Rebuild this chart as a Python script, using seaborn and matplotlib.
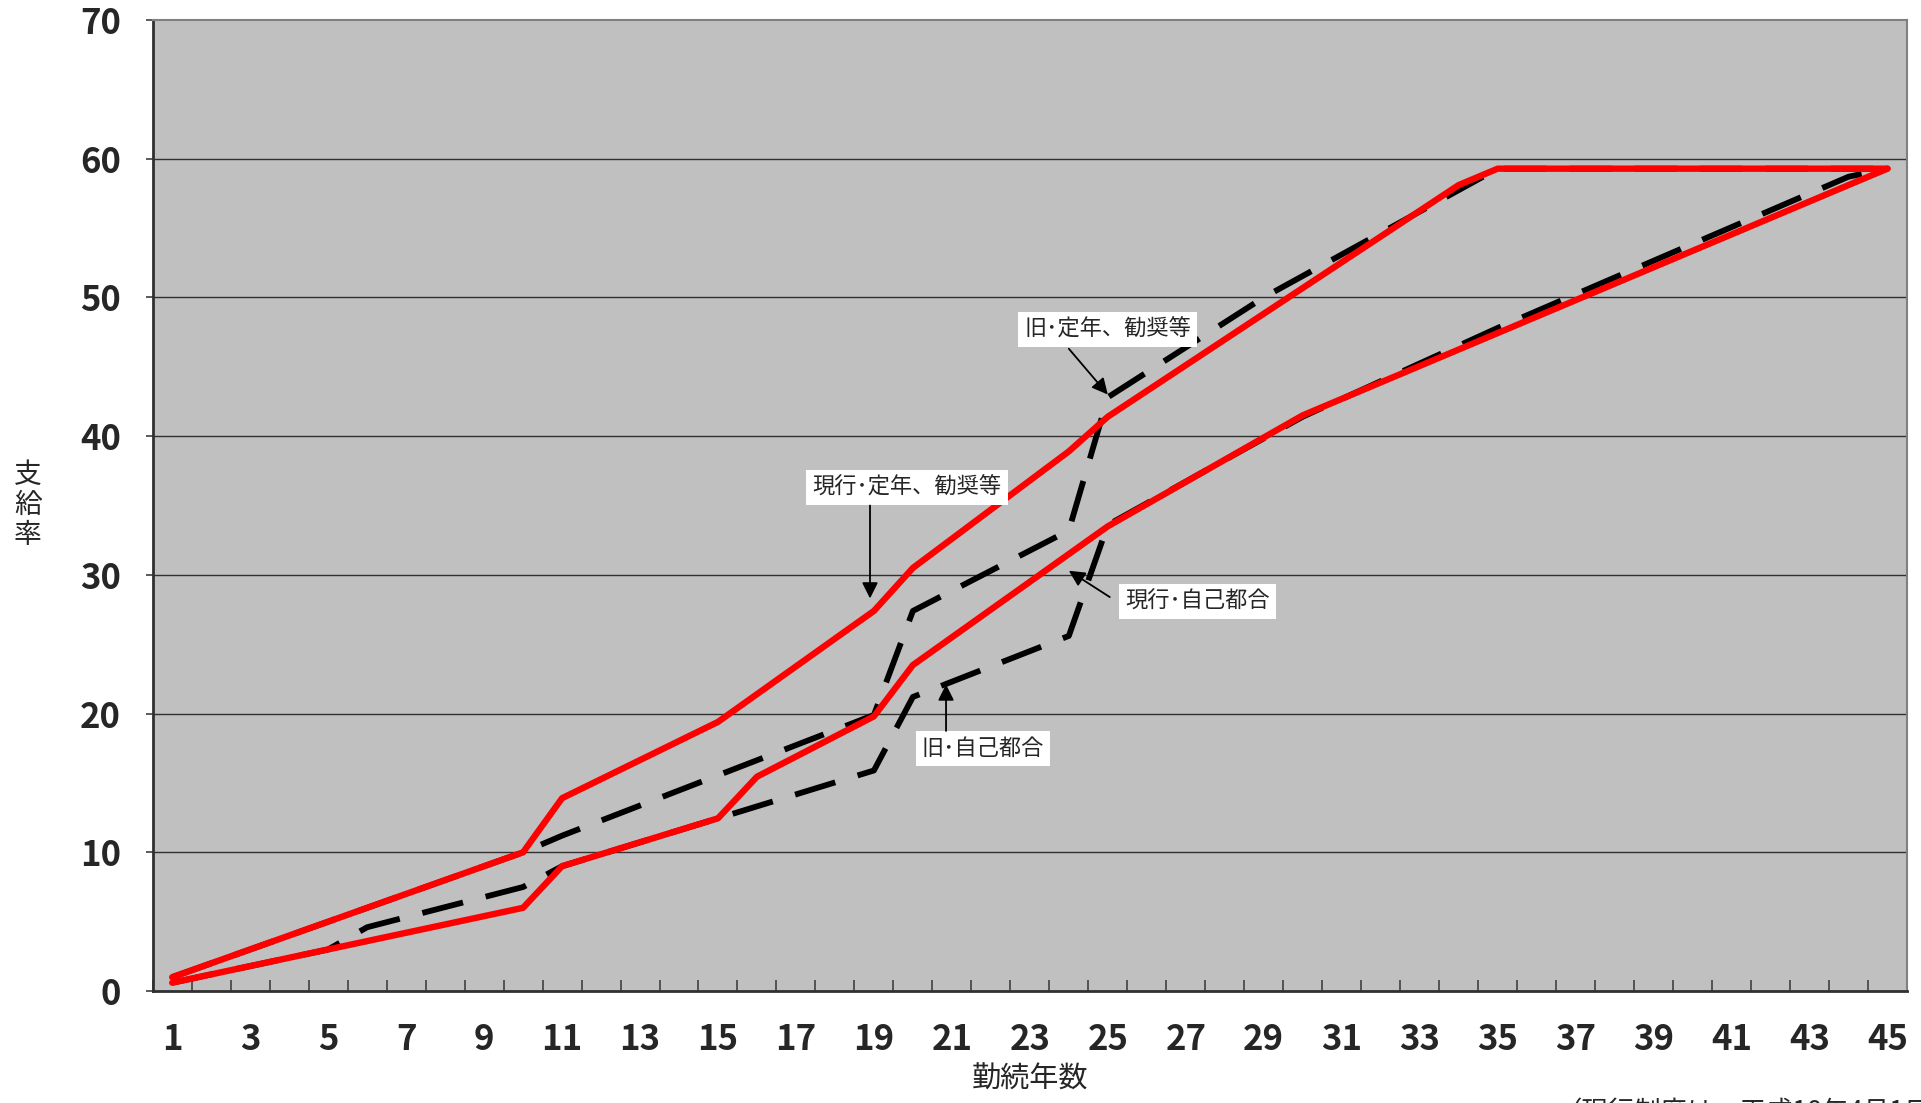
import numpy as np
import matplotlib
matplotlib.use('Agg')
import matplotlib.pyplot as plt
import seaborn as sns
from matplotlib.ticker import FixedLocator

# 勤続年数と支給率（折れ点のみ）
years_gen_teinen = [1, 10, 11, 15, 19, 20, 24, 25, 34, 35, 45]
gen_teinen = [1.0, 10.0, 13.9, 19.4, 27.4, 30.5, 38.9, 41.4, 58.1, 59.28, 59.28]

years_gen_jiko = [1, 10, 11, 15, 16, 19, 20, 25, 30, 44, 45]
gen_jiko = [0.6, 6.0, 9.0, 12.45, 15.45, 19.8, 23.5, 33.5, 41.5, 58.1, 59.28]

years_kyu_teinen = [1, 10, 11, 19, 20, 24, 25, 29, 35, 45]
kyu_teinen = [1.0, 10.0, 11.2, 19.9, 27.4, 33.2, 42.8, 50.0, 59.28, 59.28]

years_kyu_jiko = [1, 5, 6, 10, 11, 15, 19, 20, 24, 25, 30, 35, 44, 45]
kyu_jiko = [0.6, 3.0, 4.6, 7.5, 9.0, 12.45, 15.9, 21.2, 25.6, 33.6, 41.4, 47.8, 58.7, 59.28]

x_ticks = list(range(1, 46, 2))
y_ticks = [0, 10, 20, 30, 40, 50, 60, 70]

# 注記: (文字, 文字位置, 矢印の根元, 矢印の先)
labels = [
    ('旧･定年、勧奨等', (25.0, 47.7), (24.0, 46.3), (25.0, 43.0)),
    ('現行･定年、勧奨等', (19.85, 36.3), (18.9, 35.0), (18.9, 28.3)),
    ('現行･自己都合', (27.3, 28.1), (25.05, 28.4), (24.0, 30.3)),
    ('旧･自己都合', (21.8, 17.5), (20.85, 18.75), (20.85, 22.1)),
]

sns.set_theme(style='white')
plt.rcParams['font.family'] = ['Noto Sans CJK JP', 'DejaVu Sans']

fig = plt.figure(figsize=(19.21, 11.03), dpi=100)
ax = fig.add_axes([0.0795, 0.1015, 0.9132, 0.8804])
ax.set_facecolor('#C0C0C0')

# 旧制度（黒破線）を先に描き、現行（赤実線）を上に重ねる
for xs, ys in [(years_kyu_teinen, kyu_teinen), (years_kyu_jiko, kyu_jiko)]:
    sns.lineplot(x=xs, y=ys, ax=ax, color='black', linewidth=4.2,
                 estimator=None, sort=False)
    ax.lines[-1].set_dashes((7.2, 4.0))
    ax.lines[-1].set_dash_capstyle('butt')
for xs, ys in [(years_gen_teinen, gen_teinen), (years_gen_jiko, gen_jiko)]:
    sns.lineplot(x=xs, y=ys, ax=ax, color='#FF0000', linewidth=4.6,
                 estimator=None, sort=False)
    ax.lines[-1].set_solid_capstyle('round')

ax.set_xlim(0.5, 45.5)
ax.set_ylim(0, 70)
ax.set_yticks(y_ticks)
ax.set_xticks(x_ticks)
ax.xaxis.set_minor_locator(FixedLocator(np.arange(0.5, 46, 1)))
for y in y_ticks[1:-1]:
    ax.axhline(y, color='#303030', linewidth=1.0, zorder=0.5)

ax.tick_params(axis='x', which='major', length=0, pad=22, labelsize=25)
ax.tick_params(axis='x', which='minor', direction='in', length=8, width=1.2,
               color='#404040', bottom=True)
ax.tick_params(axis='y', which='major', direction='out', length=5, width=1.2,
               color='#404040', left=True, pad=18, labelsize=25)
for lab in ax.get_xticklabels() + ax.get_yticklabels():
    lab.set_fontweight('bold')

for side in ['left', 'bottom']:
    ax.spines[side].set_color('#303030')
    ax.spines[side].set_linewidth(2.0)
for side in ['top', 'right']:
    ax.spines[side].set_color('#808080')
    ax.spines[side].set_linewidth(1.5)

fig.text(0.0145, 0.542, '支\n給\n率', fontsize=20, ha='center', va='center',
         multialignment='center', linespacing=1.0)
ax.set_xlabel('勤続年数', fontsize=21, labelpad=6)

box = dict(boxstyle='square,pad=0.28', facecolor='white', edgecolor='none')
for text, pos, tail, head in labels:
    ax.text(pos[0], pos[1], text, fontsize=16, ha='center', va='center',
            bbox=box, zorder=5)
    ax.annotate('', xy=head, xytext=tail,
                arrowprops=dict(arrowstyle='-|>', color='black', linewidth=1.3,
                                mutation_scale=24, shrinkA=0, shrinkB=0),
                zorder=5)

fig.text(0.81, 0.0035, '（現行制度は、平成18年4月1日施行）', fontsize=19,
         ha='left', va='top')

fig.savefig('out.png', dpi=100)
